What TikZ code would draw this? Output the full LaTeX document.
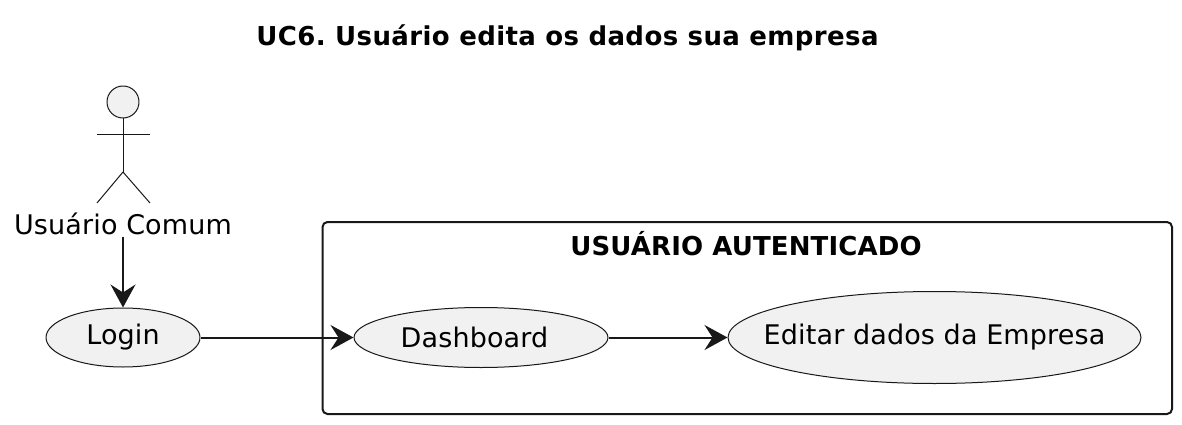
\documentclass[tikz,border=0pt]{standalone}
\usepackage{fontspec}
\setmainfont[LetterSpace=0.5]{DejaVu Sans}
\usetikzlibrary{arrows.meta, shapes.geometric}
\definecolor{ucfill}{HTML}{F1F1F1}
\definecolor{ucline}{HTML}{181818}
\tikzset{
    usecase/.style={ellipse, draw=ucline, fill=ucfill, line width=1pt, inner ysep=0pt, inner xsep=-30pt},
    ucarrow/.style={draw=ucline, line width=2pt, -{Stealth[length=23pt, width=25pt, inset=8pt]}},
    actorline/.style={draw=ucline, line width=1pt},
}
\begin{document}
\begin{tikzpicture}[x=1pt, y=-1pt, line join=round, font=\frenchspacing\fontsize{27}{31}\selectfont]

    \useasboundingbox (0, 0) rectangle (1182, 425);

    % Title
    \node[font=\frenchspacing\fontsize{26}{31}\selectfont\bfseries\addfontfeatures{LetterSpace=1.5}] (title) at (567.5, 38) {UC6. Usuário edita os dados sua empresa};

    % Rectangle for the authenticated part, drawn first so arrows appear in front
    \draw[draw=ucline, line width=2pt, rounded corners=5pt] (322.5, 222) rectangle (1172, 414);
    \node[font=\fontsize{26}{31}\selectfont\bfseries] (authtitle) at (746, 243.5) {USUÁRIO AUTENTICADO};

    % Actor: head, body, arms, legs
    \coordinate (hip) at (123, 172);
    \draw[actorline, fill=ucfill] (123, 102) circle (16);
    \draw[actorline] (123, 118) -- (hip);
    \draw[actorline] (97, 134) -- (150, 134);
    \draw[actorline] (97, 203) -- (hip) -- (150, 203);
    \node[inner sep=2pt] (usuario) at (123, 223.5) {Usuário Comum};

    % Use cases
    \node[usecase, minimum width=154pt, minimum height=59pt] (login) at (123, 337.5) {Login};
    \node[usecase, minimum width=254pt, minimum height=60pt] (dashboard) at (481, 337.5) {Dashboard\hspace*{13pt}};
    \node[usecase, minimum width=413pt, minimum height=92pt] (editar) at (934.5, 337.5) {Editar dados da Empresa};

    % Arrows
    \draw[ucarrow] (usuario) -- (login);
    \draw[ucarrow] (login) -- (dashboard);
    \draw[ucarrow] (dashboard) -- (editar);

\end{tikzpicture}
\end{document}
